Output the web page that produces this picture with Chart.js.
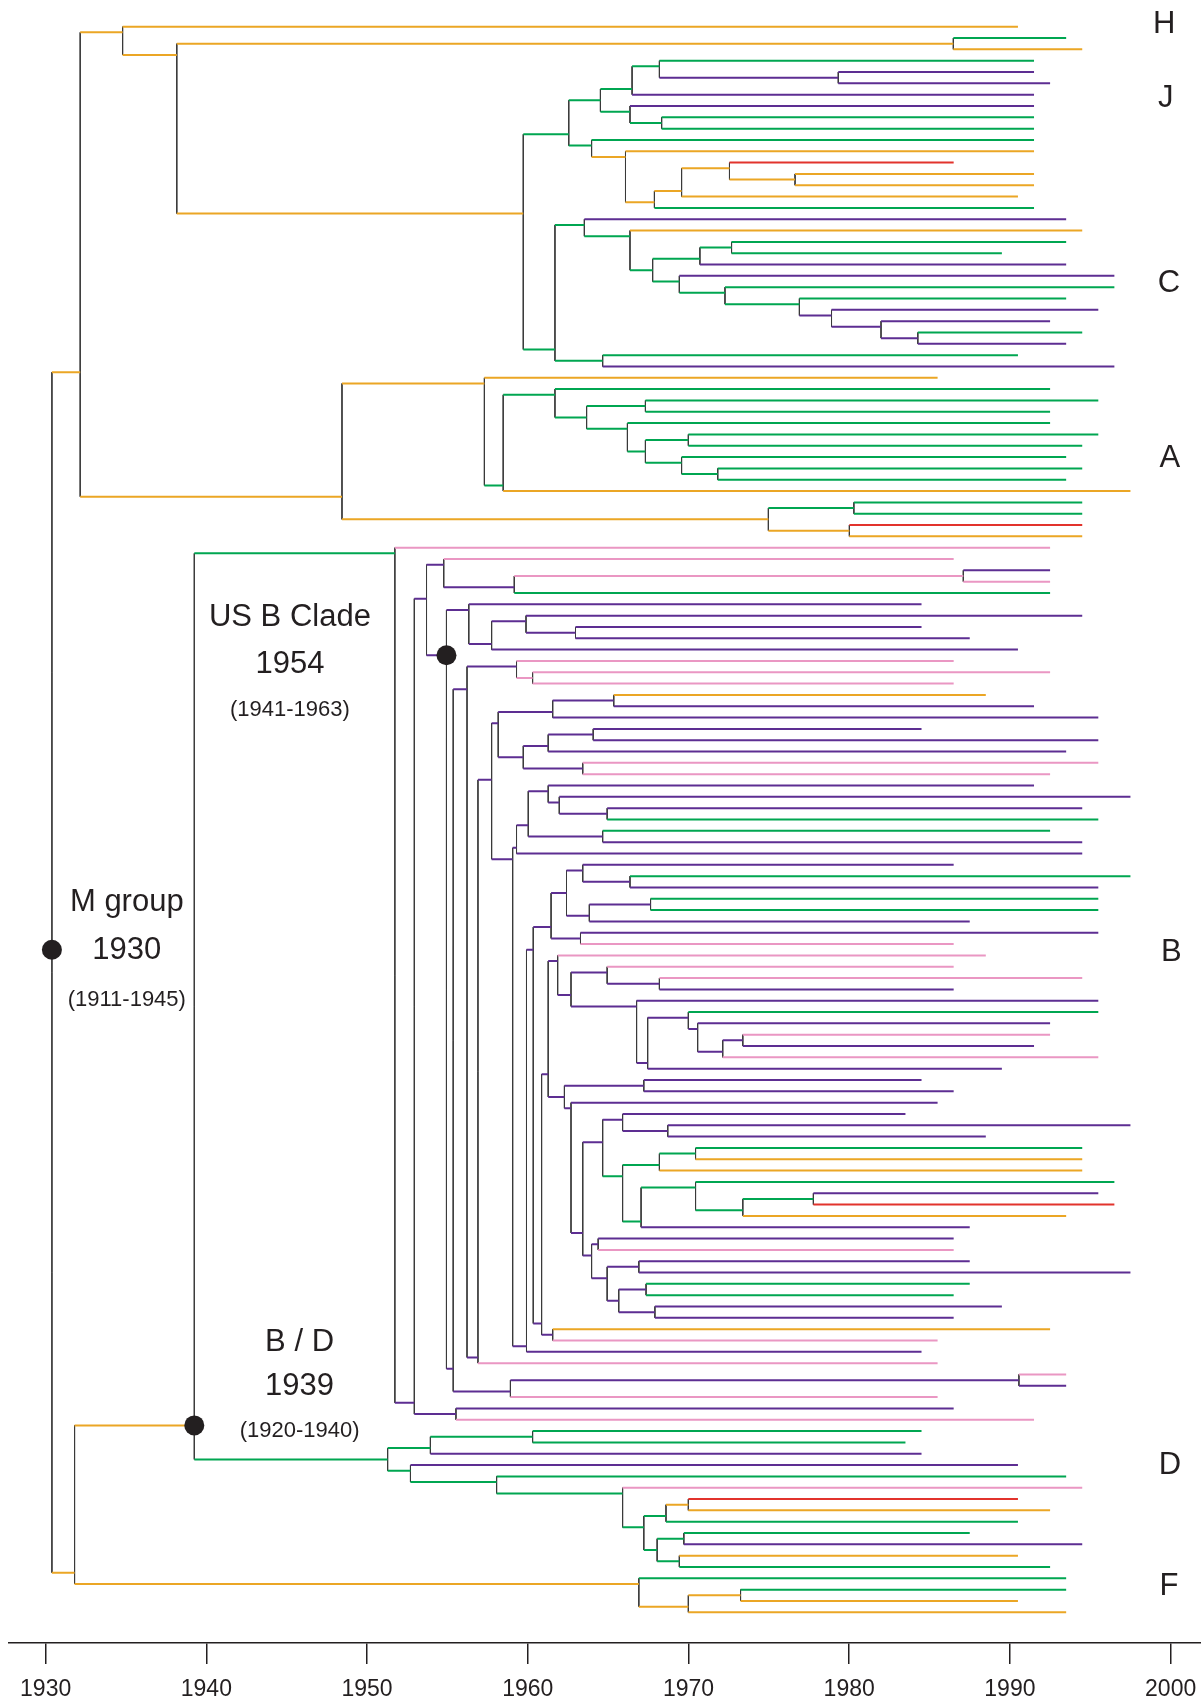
<!DOCTYPE html>
<html>
<head>
<meta charset="utf-8">
<script src="https://cdn.jsdelivr.net/npm/chart.js@4.4.1/dist/chart.umd.min.js"></script>
<style>
  html, body { margin: 0; padding: 0; background: #fff; }
</style>
</head>
<body>
<canvas id="tree" width="1201" height="1702"></canvas>
<script>
// tree notation: (a,b)cT = internal node, cT = tip
// c = colour of the branch leading to it, T = year (node date or sampling date)
// o orange, g green, p purple, k pink, r red ; * = node marked with a dot
const cladeJ1 = "(((g1991.5,(p1991.5,p1992.5)p1979.32)g1968.19,p1991.5)g1966.49,(p1991.5,(g1991.5,g1991.5)g1968.33)g1966.36)g1964.52";
const cladeJ2 = "(g1991.5,(o1991.5,(((r1986.5,(o1991.5,o1991.5)o1976.63)o1972.55,o1990.5)o1969.57,g1991.5)o1967.88)o1966.08)g1963.97";
const cladeC1 = "(p1993.5,(o1994.5,(((g1993.5,g1989.5)g1972.68,p1993.5)g1970.71,(p1996.5,(g1996.5,(g1993.5,(p1995.5,(p1992.5,(g1994.5,p1993.5)p1984.27)p1981.98)p1978.9)g1976.9)g1972.27)g1969.43)g1967.77)g1966.36)g1963.52";
const cladeA1 = "(g1992.5,((g1995.5,g1992.5)g1967.32,(g1992.5,((g1995.5,g1994.5)g1969.99,(g1993.5,(g1994.5,g1993.5)g1971.82)g1969.57)g1967.32)g1966.2)g1963.66)g1961.69";

const usbTop = "(p1984.5,((p1994.5,(p1984.5,p1987.5)p1962.97)p1959.89,p1990.5)p1957.75)p1956.33";
const b303 = "(((o1988.5,p1991.5)p1965.35,p1995.5)p1961.55,(((p1984.5,p1995.5)p1964.07,p1993.5)p1961.27,(k1995.5,k1992.5)p1963.42)p1959.72)p1958.16";
const b336 = "(((p1991.5,(p1997.5,(p1994.5,g1995.5)p1964.94)p1961.96)p1961.27,(g1992.5,p1994.5)p1964.66)p1960.03,p1994.5)p1959.3";
const b426 = "((p1986.5,(g1997.5,p1995.5)p1966.36)p1963.42,((g1995.5,g1995.5)p1967.64,p1987.5)p1963.83)p1962.41";
const b410 = "(k1988.5,((k1986.5,(k1994.5,p1986.5)p1968.19)p1964.94,(p1995.5,((g1995.5,(p1992.5,((k1992.5,p1991.5)p1973.38,k1995.5)p1972.13)p1970.57)p1969.99,p1989.5)p1967.46)p1966.77)p1962.69)p1961.86";
const b491 = "((p1983.5,(p1997.5,p1988.5)p1968.71)p1965.9,(((g1994.5,o1994.5)g1970.44,o1994.5)g1968.19,((g1996.5,((p1995.5,r1996.5)g1977.77,o1993.5)g1973.38)g1970.44,p1987.5)g1967.05)g1965.9)p1964.66";
const b471 = "((p1986.5,k1986.5)p1964.38,((p1987.5,p1997.5)p1966.91,((g1987.5,g1986.5)p1967.36,(p1989.5,p1986.5)p1967.91)p1965.66)p1964.94)p1963.97";
const d527 = "(k1994.5,(((r1990.5,o1992.5)o1969.99,g1990.5)g1968.6,((g1987.5,p1994.5)g1969.71,(o1990.5,g1992.5)g1969.43)g1968.05)g1967.22)g1965.9";
const cladeF = "(g1993.5,((g1993.5,o1990.5)o1973.24,o1993.5)o1969.99)o1966.91";

const cladeJ = `(${cladeJ1},${cladeJ2})g1962.55`;
const cladeC = `(${cladeC1},(g1990.5,p1996.5)g1964.66)g1961.69`;
const cladeHJC = `(o1990.5,((g1993.5,o1994.5)o1986.48,(${cladeJ},${cladeC})o1959.72)o1938.16)o1934.79`;
const cladeA = `((o1985.5,(${cladeA1},o1997.5)g1958.47)o1957.3,((g1994.5,g1994.5)g1980.29,(r1994.5,o1994.5)o1980.01)o1974.97)o1948.44`;

const b422 = `((p1984.5,p1986.5)p1967.22,(p1985.5,(${b491},${b471})p1963.42)p1962.69)p1962.28`;
const b381 = `((${b410},${b422})p1961.27,(o1992.5,k1985.5)p1961.55)p1960.86`;
const b354 = `(((${b426},(p1995.5,k1986.5)p1963.28)p1961.45,${b381})p1960.34,p1984.5)p1959.92`;
const b267 = `((${b303},(${b336},${b354})p1959.06)p1957.75,k1985.5)p1956.9`;
const b222 = `(((k1986.5,(k1992.5,k1986.5)k1960.3)p1959.3,${b267})p1956.22,((k1993.5,p1993.5)p1990.56,k1985.5)p1958.92)p1955.36`;
const cladeB = `(k1992.5,(((k1986.5,((p1992.5,k1992.5)k1987.1,g1992.5)p1959.16)p1954.77,(${usbTop},${b222})p1954.94*)p1953.7,(p1986.5,k1991.5)p1955.53)p1952.94)g1951.73`;
const cladeD = `(((g1984.5,g1983.5)g1960.3,p1984.5)g1953.94,(p1990.5,(g1993.5,${d527})g1958.06)g1952.7)g1951.28`;

const topHalf = `(${cladeHJC},${cladeA})o1932.15`;
const bottomHalf = `((${cladeB},${cladeD})o1939.25*,${cladeF})o1931.8`;
const treeText = `(${topHalf},${bottomHalf})o1930.39`;
const rootDotRow = 81.5;

const xTicks = [1930, 1940, 1950, 1960, 1970, 1980, 1990, 2000];

const labelText = ["H", "J", "C", "A", "B", "D", "F",
  "US B Clade", "1954", "(1941-1963)",
  "M group", "1930", "(1911-1945)",
  "B / D", "1939", "(1920-1940)"];
const labelYear = [1999.6, 1999.7, 1999.9, 1999.95, 2000.05, 1999.95, 1999.9,
  1945.2, 1945.2, 1945.2,
  1935.05, 1935.05, 1935.05,
  1945.8, 1945.8, 1945.8];
const labelRow = [-0.2, 6.35, 22.65, 38.15, 81.7, 127.0, 137.75,
  52.2, 56.3, 60.35,
  77.3, 81.55, 85.95,
  116.15, 120.1, 124.0];
const labelSize = [31, 31, 31, 31, 31, 31, 31,
  31, 31, 22,
  31, 31, 22,
  31, 31, 22];

const colours = {
  o: "#EBA625",
  g: "#00A651",
  p: "#5D2E92",
  k: "#EA97C3",
  r: "#E2332C",
  v: "#3a3a3a"
};

// ---- parse + layout ----
function parseTree(s) {
  let i = 0;
  function node() {
    let kids = null;
    if (s[i] === "(") {
      i++;
      kids = [node()];
      while (s[i] === ",") { i++; kids.push(node()); }
      i++; // ')'
    }
    const col = s[i++];
    const j = i;
    while (i < s.length && /[0-9.]/.test(s[i])) i++;
    const n = { col, t: parseFloat(s.slice(j, i)), kids };
    if (s[i] === "*") { n.dot = true; i++; }
    return n;
  }
  return node();
}

const root = parseTree(treeText);
let tipCount = 0;
function layout(n) {
  if (!n.kids) {
    n.y = tipCount++;
    n.first = n.last = n.y;
    return;
  }
  n.kids.forEach(layout);
  n.first = n.kids[0].first;
  n.last = n.kids[n.kids.length - 1].last;
  // branch sits between the two sister clades
  n.y = (n.kids[0].last + n.kids[1].first) / 2;
}
layout(root);

const segs = { o: [], g: [], p: [], k: [], r: [], v: [] };
const dots = [];
function walk(n, parent) {
  if (parent) {
    segs[n.col].push({ x: parent.t, y: n.y }, { x: n.t, y: n.y }, { x: n.t, y: null });
  }
  if (n.dot) dots.push({ x: n.t, y: n.y });
  if (n.kids) {
    segs.v.push({ x: n.t, y: n.kids[0].y }, { x: n.t, y: n.kids[n.kids.length - 1].y }, { x: n.t, y: null });
    n.kids.forEach((k) => walk(k, n));
  }
}
walk(root, null);
dots.push({ x: root.t, y: rootDotRow });

const lineSet = (key, width, order) => ({
  data: segs[key],
  showLine: true,
  borderColor: colours[key],
  borderWidth: width,
  pointRadius: 0,
  spanGaps: false,
  borderCapStyle: "butt",
  order,
});

const labelPlugin = {
  id: "treeLabels",
  afterDatasetsDraw(chart) {
    const { ctx, scales } = chart;
    ctx.save();
    ctx.fillStyle = "#231f20";
    ctx.textAlign = "center";
    ctx.textBaseline = "middle";
    labelText.forEach((txt, i) => {
      ctx.font = `${labelSize[i]}px "Liberation Sans", Arial, sans-serif`;
      ctx.fillText(txt, scales.x.getPixelForValue(labelYear[i]), scales.y.getPixelForValue(labelRow[i]));
    });
    ctx.restore();
  },
};

new Chart(document.getElementById("tree").getContext("2d"), {
  type: "scatter",
  data: {
    datasets: [
      { data: dots, pointRadius: 10, pointBackgroundColor: "#231f20", pointBorderWidth: 0, order: 0 },
      lineSet("o", 2, 1),
      lineSet("g", 2, 1),
      lineSet("p", 2, 1),
      lineSet("k", 2, 1),
      lineSet("r", 2, 1),
      lineSet("v", 1, 2),
    ],
  },
  options: {
    responsive: false,
    animation: false,
    events: [],
    devicePixelRatio: 1,
    layout: { autoPadding: false, padding: { left: 9, right: 0, top: 0, bottom: 0 } },
    plugins: { legend: { display: false }, tooltip: { enabled: false } },
    scales: {
      x: {
        type: "linear",
        min: 1927.72,
        max: 2001.89,
        afterBuildTicks: (s) => { s.ticks = xTicks.map((v) => ({ value: v })); },
        afterFit: (s) => {
          s.height = 59;
          s.paddingLeft = 0;
          s.paddingRight = 0;
        },
        grid: { drawOnChartArea: false, drawTicks: true, tickLength: 21, color: "#231f20", lineWidth: 1.5 },
        border: { display: true, color: "#231f20", width: 1.5 },
        ticks: {
          color: "#231f20",
          padding: 12,
          maxRotation: 0,
          font: { size: 23, family: '"Liberation Sans", Arial, sans-serif' },
          callback: (v) => String(v),
        },
      },
      y: {
        type: "linear",
        display: false,
        reverse: true,
        min: -2.357,
        max: 142.71,
      },
    },
  },
  plugins: [labelPlugin],
});
</script>
</body>
</html>
